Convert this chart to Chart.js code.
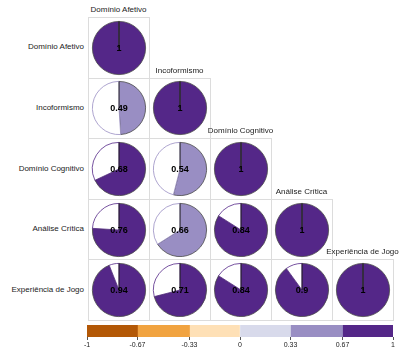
<!DOCTYPE html>
<html>
<head>
<meta charset="utf-8">
<script src="https://cdn.jsdelivr.net/npm/chart.js@4/dist/chart.umd.min.js"></script>
<style>
  body { margin: 0; background: #fff; width: 405px; height: 352px; position: relative; overflow: hidden; font-family: "Liberation Sans", Arial, sans-serif; }
  .cell { position: absolute; box-sizing: border-box; border: 1px solid #dcdcdc; }
  .pie { position: absolute; }
  .lbl { position: absolute; font-size: 8px; color: #222; white-space: nowrap; }
  .row { text-align: right; }
  .col { text-align: center; }
  #bar { position: absolute; left: 77px; top: 320px; width: 326px; height: 29px; }
</style>
</head>
<body>
<div id="bar"><canvas id="barCanvas"></canvas></div>
<script>
// variables (rows and columns of the matrix)
const variables = ['Domínio Afetivo', 'Incoformismo', 'Domínio Cognitivo', 'Análise Crítica', 'Experiência de Jogo'];

// lower triangle of the correlation matrix, one row at a time
const row1 = [1];
const row2 = [0.49, 1];
const row3 = [0.68, 0.54, 1];
const row4 = [0.76, 0.66, 0.84, 1];
const row5 = [0.94, 0.71, 0.84, 0.9, 1];
const corrRows = [row1, row2, row3, row4, row5];

// colour scale
const binEdges = [-1, -0.67, -0.33, 0, 0.33, 0.67, 1];
const binColors = ['#b35806', '#f1a340', '#fee0b6', '#d8daeb', '#998ec3', '#542788'];
const tickLabels = ['-1', '-0.67', '-0.33', '0', '0.33', '0.67', '1'];

const gridLeft = 88, gridTop = 17, cellW = 61, cellH = 60.6, pieSize = 56;

function colorFor(v) {
    for (let i = 0; i < binColors.length; i++) {
        if (v <= binEdges[i + 1]) return binColors[i];
    }
    return binColors[binColors.length - 1];
}

const centerText = {
    id: 'centerText',
    afterDraw(chart) {
        const arc = chart.getDatasetMeta(0).data[0];
        const ctx = chart.ctx;
        ctx.save();
        // radius line to 12 o'clock
        ctx.strokeStyle = '#111';
        ctx.lineWidth = 0.8;
        ctx.beginPath();
        ctx.moveTo(arc.x, arc.y);
        ctx.lineTo(arc.x, arc.y - arc.outerRadius);
        ctx.stroke();
        ctx.fillStyle = '#000';
        ctx.font = 'bold 9px "Liberation Sans", Arial, sans-serif';
        ctx.textAlign = 'center';
        ctx.textBaseline = 'middle';
        ctx.fillText(chart.options.plugins.centerText.label, arc.x, arc.y + 1);
        ctx.restore();
    }
};

for (let i = 0; i < corrRows.length; i++) {
    // row label
    const rl = document.createElement('div');
    rl.className = 'lbl row';
    rl.style.right = (405 - gridLeft + 4) + 'px';
    rl.style.top = (gridTop + i * cellH + cellH / 2 - 5) + 'px';
    rl.textContent = variables[i];
    document.body.appendChild(rl);

    // column label over the diagonal cell
    const cl = document.createElement('div');
    cl.className = 'lbl col';
    cl.style.left = (gridLeft + i * cellW - 30) + 'px';
    cl.style.width = (cellW + 60) + 'px';
    cl.style.top = (gridTop + i * cellH - 12) + 'px';
    cl.textContent = variables[i];
    document.body.appendChild(cl);

    for (let j = 0; j < corrRows[i].length; j++) {
        const v = corrRows[i][j];
        const cell = document.createElement('div');
        cell.className = 'cell';
        cell.style.left = (gridLeft + j * cellW) + 'px';
        cell.style.top = (gridTop + i * cellH) + 'px';
        cell.style.width = (cellW + 1) + 'px';
        cell.style.height = (cellH + 1) + 'px';
        document.body.appendChild(cell);

        const box = document.createElement('div');
        box.className = 'pie';
        box.style.left = (gridLeft + j * cellW + (cellW - pieSize) / 2 + 0.5) + 'px';
        box.style.top = (gridTop + i * cellH + (cellH - pieSize) / 2 + 0.5) + 'px';
        box.style.width = pieSize + 'px';
        box.style.height = pieSize + 'px';
        const cv = document.createElement('canvas');
        box.appendChild(cv);
        document.body.appendChild(box);

        const fill = colorFor(v);
        new Chart(cv, {
            type: 'pie',
            data: {
                labels: ['r', 'rest'],
                datasets: [{
                    data: [v, 1 - v],
                    backgroundColor: [fill, '#ffffff'],
                    borderColor: ['#4a4a4a', fill],
                    borderWidth: 0.8,
                    hoverOffset: 0
                }]
            },
            options: {
                responsive: true,
                maintainAspectRatio: false,
                animation: false,
                events: [],
                layout: { padding: 1 },
                plugins: {
                    legend: { display: false },
                    tooltip: { enabled: false },
                    centerText: { label: String(v) }
                }
            },
            plugins: [centerText]
        });
    }
}

// colour bar
new Chart(document.getElementById('barCanvas'), {
    type: 'bar',
    data: {
        labels: ['scale'],
        datasets: binColors.map((c, k) => ({
            data: [[binEdges[k], binEdges[k + 1]]],
            backgroundColor: c,
            borderWidth: 0,
            grouped: false,
            barPercentage: 1,
            categoryPercentage: 1
        }))
    },
    options: {
        indexAxis: 'y',
        responsive: true,
        maintainAspectRatio: false,
        animation: false,
        events: [],
        layout: { padding: { left: 10, right: 10, top: 5, bottom: 0 } },
        plugins: { legend: { display: false }, tooltip: { enabled: false } },
        scales: {
            x: {
                type: 'linear',
                min: -1,
                max: 1,
                afterBuildTicks: axis => { axis.ticks = binEdges.map(v => ({ value: v })); },
                ticks: {
                    autoSkip: false,
                    maxRotation: 0,
                    padding: 1,
                    color: '#222',
                    font: { size: 7, family: '"Liberation Sans", Arial, sans-serif' },
                    callback: (val, idx) => tickLabels[idx]
                },
                grid: { drawOnChartArea: false, drawTicks: true, tickLength: 3, color: '#555' },
                border: { display: false }
            },
            y: { display: false }
        }
    }
});
</script>
</body>
</html>
